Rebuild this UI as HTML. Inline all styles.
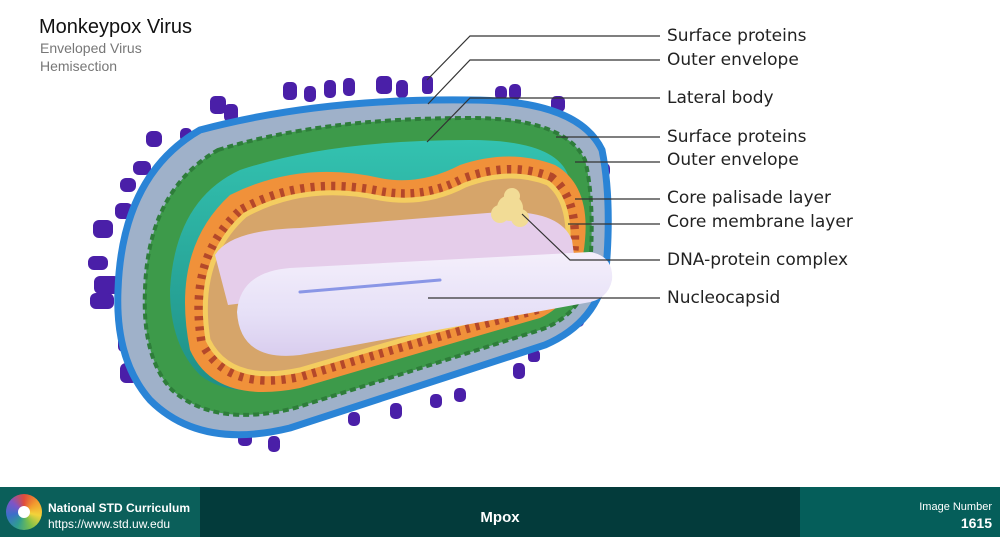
<!DOCTYPE html>
<html><head><meta charset="utf-8"><style>
html,body{margin:0;padding:0;background:#fff;}
body{width:1000px;height:537px;position:relative;overflow:hidden;font-family:"Liberation Sans",sans-serif;}
.t1{position:absolute;left:39px;top:16px;font-size:20px;color:#111;}
.t2{position:absolute;left:40px;top:39px;font-size:14px;color:#777;line-height:18px;}
.lab{position:absolute;left:667px;font-family:"DejaVu Sans","Liberation Sans",sans-serif;font-size:17px;color:#222;line-height:20px;}
.foot{position:absolute;left:0;top:487px;width:1000px;height:50px;}
</style></head><body>
<div class="t1">Monkeypox Virus</div>
<div class="t2">Enveloped Virus<br>Hemisection</div>
<svg width="1000" height="537" style="position:absolute;left:0;top:0">
<defs>
<linearGradient id="nuc" x1="0" y1="0" x2="0" y2="1"><stop offset="0" stop-color="#f4effb"/><stop offset="0.6" stop-color="#e6e0f7"/><stop offset="1" stop-color="#d9cdee"/></linearGradient>
<linearGradient id="tl" x1="0" y1="0" x2="0" y2="1"><stop offset="0" stop-color="#33c2b0"/><stop offset="1" stop-color="#1f8f86"/></linearGradient>
</defs>
<g fill="#4a1fa8">
<rect x="283" y="82" width="14" height="18" rx="5"/><rect x="304" y="86" width="12" height="16" rx="5"/><rect x="324" y="80" width="12" height="18" rx="5"/><rect x="343" y="78" width="12" height="18" rx="5"/><rect x="376" y="76" width="16" height="18" rx="5"/><rect x="396" y="80" width="12" height="18" rx="5"/><rect x="422" y="76" width="11" height="18" rx="4"/><rect x="495" y="86" width="12" height="14" rx="5"/><rect x="509" y="84" width="12" height="16" rx="5"/><rect x="551" y="96" width="14" height="16" rx="5"/>
<rect x="210" y="96" width="16" height="18" rx="5"/><rect x="224" y="104" width="14" height="18" rx="5"/><rect x="180" y="128" width="12" height="14" rx="5"/><rect x="146" y="131" width="16" height="16" rx="6"/><rect x="133" y="161" width="18" height="14" rx="6"/><rect x="120" y="178" width="16" height="14" rx="6"/><rect x="115" y="203" width="18" height="16" rx="6"/><rect x="93" y="220" width="20" height="18" rx="6"/><rect x="88" y="256" width="20" height="14" rx="6"/><rect x="94" y="276" width="26" height="18" rx="6"/><rect x="90" y="293" width="24" height="16" rx="6"/><rect x="118" y="336" width="12" height="16" rx="5"/><rect x="120" y="363" width="18" height="20" rx="6"/><rect x="174" y="408" width="16" height="14" rx="5"/><rect x="202" y="418" width="12" height="14" rx="5"/><rect x="238" y="430" width="14" height="16" rx="5"/><rect x="268" y="436" width="12" height="16" rx="5"/><rect x="348" y="412" width="12" height="14" rx="5"/><rect x="390" y="403" width="12" height="16" rx="5"/><rect x="430" y="394" width="12" height="14" rx="5"/><rect x="454" y="388" width="12" height="14" rx="5"/><rect x="513" y="363" width="12" height="16" rx="5"/><rect x="572" y="313" width="12" height="14" rx="5"/><rect x="584" y="133" width="12" height="14" rx="5"/><rect x="596" y="163" width="14" height="14" rx="5"/><rect x="598" y="233" width="12" height="12" rx="4"/><rect x="528" y="350" width="12" height="12" rx="4"/>
</g>
<path d="M 200,130 Q 320,98 470,100 Q 578,100 602,150 Q 612,200 606,270 Q 598,322 545,345 L 290,428 Q 200,450 150,400 Q 115,360 118,290 Q 122,175 200,130 Z" fill="#9fb1c9" stroke="#2a84d6" stroke-width="7"/>
<path d="M 218,150 Q 320,118 470,118 Q 565,118 585,160 Q 595,200 590,270 Q 583,315 540,330 L 295,408 Q 215,428 172,390 Q 142,358 145,290 Q 148,190 218,150 Z" fill="#3d9a4a" stroke="#2e7d3a" stroke-width="4" stroke-dasharray="6 4"/>
<path d="M 240,170 Q 330,140 470,140 Q 555,140 568,175 Q 575,210 570,270 Q 565,305 530,315 L 300,385 Q 230,400 200,375 Q 170,345 170,290 Q 175,200 240,170 Z" fill="url(#tl)"/>
<path d="M 230,195 Q 300,160 380,178 Q 420,186 460,165 Q 510,148 555,165 Q 590,185 585,240 Q 580,300 540,318 Q 480,335 300,388 Q 215,405 190,350 Q 170,250 230,195 Z" fill="#f0913a"/>
<path d="M 245,215 Q 305,182 380,198 Q 425,206 465,185 Q 510,168 548,183 Q 570,200 568,245 Q 565,295 530,305 Q 470,320 300,370 Q 230,385 208,340 Q 195,260 245,215 Z" fill="none" stroke="#b4482a" stroke-width="22" stroke-dasharray="4 6"/>
<path d="M 245,215 Q 305,182 380,198 Q 425,206 465,185 Q 510,168 548,183 Q 570,200 568,245 Q 565,295 530,305 Q 470,320 300,370 Q 230,385 208,340 Q 195,260 245,215 Z" fill="#d6a56a" stroke="#f4cd60" stroke-width="5"/>
<path d="M 215,255 Q 230,230 300,228 L 500,212 Q 560,210 572,240 L 575,262 L 228,305 Z" fill="#e5cdea"/>
<path d="M 290,268 L 590,252 Q 614,256 612,280 Q 608,300 585,303 L 300,355 Q 240,362 237,312 Q 240,272 290,268 Z" fill="url(#nuc)"/>
<path d="M 300,292 L 440,280" stroke="#8a96e6" stroke-width="3" fill="none" stroke-linecap="round"/>
<g fill="#f2dc96"><circle cx="510" cy="208" r="13"/><circle cx="500" cy="214" r="9"/><circle cx="520" cy="218" r="9"/><circle cx="512" cy="196" r="8"/></g>
<g stroke="#333" stroke-width="1.2" fill="none">
<path d="M660,36 H470 L427,80"/><path d="M660,60 H470 L428,104"/><path d="M660,98 H470 L427,142"/>
<path d="M660,137 H556"/><path d="M660,162 H575"/><path d="M660,199 H575"/><path d="M660,224 H568"/>
<path d="M660,260 H570 L522,214"/><path d="M660,298 H428"/>
</g>
</svg>
<div class="lab" style="top:26px">Surface proteins</div>
<div class="lab" style="top:50px">Outer envelope</div>
<div class="lab" style="top:88px">Lateral body</div>
<div class="lab" style="top:127px">Surface proteins</div>
<div class="lab" style="top:150px">Outer envelope</div>
<div class="lab" style="top:188px">Core palisade layer</div>
<div class="lab" style="top:212px">Core membrane layer</div>
<div class="lab" style="top:250px">DNA-protein complex</div>
<div class="lab" style="top:288px">Nucleocapsid</div>
<div class="foot">
<div style="position:absolute;left:0;top:0;width:200px;height:50px;background:#0b5f5a"></div>
<div style="position:absolute;left:200px;top:0;width:600px;height:50px;background:#033b3b"></div>
<div style="position:absolute;left:800px;top:0;width:200px;height:50px;background:#055e5a"></div>
<div style="position:absolute;left:6px;top:7px;width:36px;height:36px;border-radius:50%;background:conic-gradient(#e14b3b,#f29a2e,#f3d33a,#7cc04b,#2f9e8f,#3b6fc9,#7d55c7,#e14b3b)"></div>
<div style="position:absolute;left:18px;top:19px;width:12px;height:12px;border-radius:50%;background:#fff"></div>
<div style="position:absolute;left:48px;top:14px;color:#fff;font-size:12px;font-weight:bold">National STD Curriculum</div>
<div style="position:absolute;left:48px;top:30px;color:#fff;font-size:12px">https://www.std.uw.edu</div>
<div style="position:absolute;left:200px;width:600px;top:22px;text-align:center;color:#fff;font-size:15px;font-weight:bold">Mpox</div>
<div style="position:absolute;right:8px;top:14px;color:#fff;font-size:11px;text-align:right">Image Number</div>
<div style="position:absolute;right:8px;top:28px;color:#fff;font-size:14px;font-weight:bold">1615</div>
</div>
</body></html>
